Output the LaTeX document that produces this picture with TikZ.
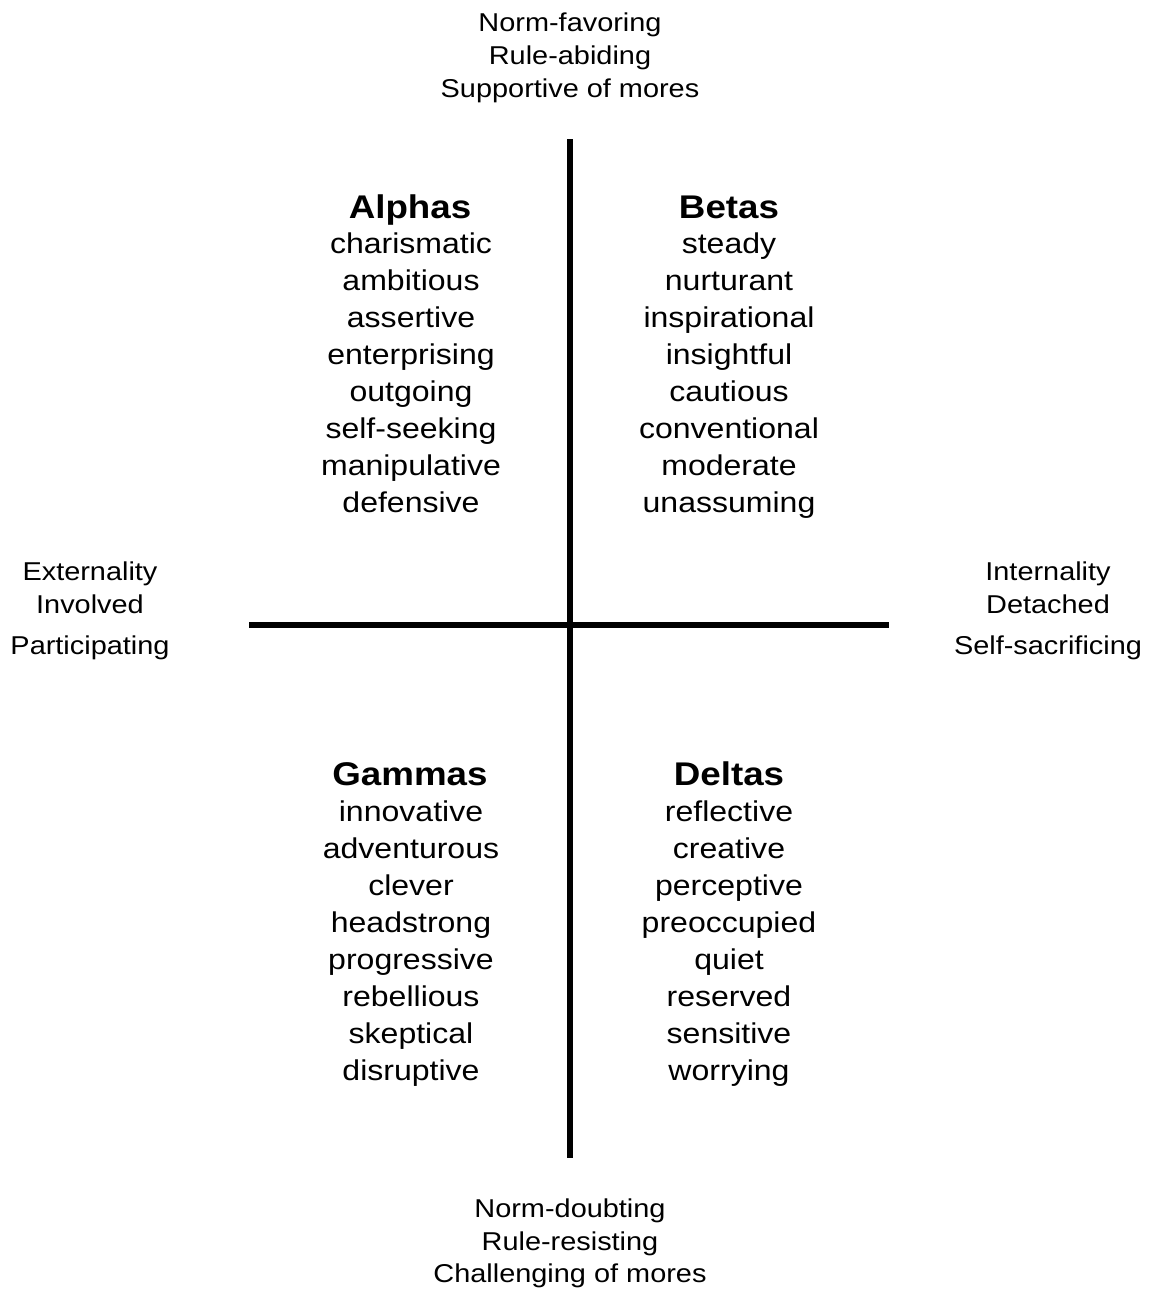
\documentclass[tikz,border=0pt]{standalone}
\usepackage{fontspec}
\setmainfont[FakeStretch=1.12]{Liberation Sans}
\begin{document}
\begin{tikzpicture}[x=1pt,y=-1pt,
  word/.style={anchor=base,inner sep=0pt,font=\fontsize{28.6}{34}\selectfont},
  head/.style={anchor=base,inner sep=0pt,font=\fontsize{32.8}{38}\selectfont\bfseries},
  axislabel/.style={anchor=base,inner sep=0pt,font=\fontsize{25.8}{31}\selectfont},
  axisline/.style={line width=6pt,line cap=butt}]
\useasboundingbox[fill=white] (0,0) rectangle (1151,1291);
% axes
\coordinate (vt) at (570,139);
\coordinate (vb) at (570,1158);
\coordinate (hl) at (249,625);
\coordinate (hr) at (889,625);
\draw[axisline] (vt) -- (vb);
\draw[axisline] (hl) -- (hr);
% axis labels
\node[axislabel] (t1) at (570,31) {Norm-favoring};
\node[axislabel] (t2) at (570,64) {Rule-abiding};
\node[axislabel] (t3) at (570,97) {Supportive of mores};
\node[axislabel] (b1) at (570,1217) {Norm-doubting};
\node[axislabel] (b2) at (570,1250) {Rule-resisting};
\node[axislabel] (b3) at (570,1282) {Challenging of mores};
\node[axislabel] (l1) at (90,580) {Externality};
\node[axislabel] (l2) at (90,613) {Involved};
\node[axislabel] (l3) at (90,654) {Participating};
\node[axislabel] (r1) at (1048,580) {Internality};
\node[axislabel] (r2) at (1048,613) {Detached};
\node[axislabel] (r3) at (1048,654) {Self-sacrificing};
% quadrants
\node[head] (alpha) at (410,218) {Alphas};
\foreach \w [count=\i from 0] in {charismatic,ambitious,assertive,enterprising,outgoing,self-seeking,manipulative,defensive}
  \node[word] (alpha\i) at (411,253+37*\i) {\w};
\node[head] (beta) at (729,218) {Betas};
\foreach \w [count=\i from 0] in {steady,nurturant,inspirational,insightful,cautious,conventional,moderate,unassuming}
  \node[word] (beta\i) at (729,253+37*\i) {\w};
\node[head] (gamma) at (410,785) {Gammas};
\foreach \w [count=\i from 0] in {innovative,adventurous,clever,headstrong,progressive,rebellious,skeptical,disruptive}
  \node[word] (gamma\i) at (411,821+37*\i) {\w};
\node[head] (delta) at (729,785) {Deltas};
\foreach \w [count=\i from 0] in {reflective,creative,perceptive,preoccupied,quiet,reserved,sensitive,worrying}
  \node[word] (delta\i) at (729,821+37*\i) {\w};
\end{tikzpicture}
\end{document}
